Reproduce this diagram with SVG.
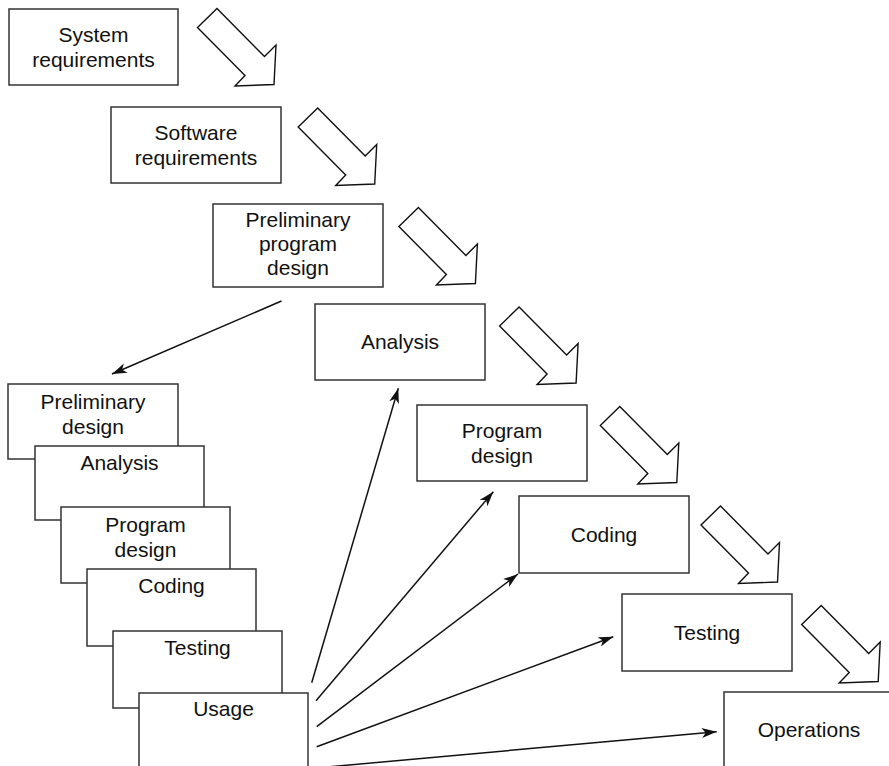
<svg xmlns="http://www.w3.org/2000/svg" width="889" height="766" viewBox="0 0 889 766">
<style>
.box{fill:#fff;stroke:#333;stroke-width:1.5}
.flow{fill:#fff;stroke:#111;stroke-width:1.4;stroke-linejoin:miter}
.lbl{font-family:"Liberation Sans",Arial,sans-serif;font-size:21px;fill:#111;text-anchor:middle}
.conn{stroke:#111;stroke-width:1.5;fill:none;marker-end:url(#ah)}
</style>
<defs>
<marker id="ah" markerUnits="userSpaceOnUse" markerWidth="18" markerHeight="12" refX="15" refY="5" orient="auto">
<path d="M0,0 L15,5 L0,10 L4,5 Z" fill="#111"/>
</marker>
<polygon id="bigArrow" points="197.5,27.5 217,8.5 264.5,56.5 276,45 274,84.5 235,86 245,75.5"/>
</defs>

<g id="flow-arrows">
<use href="#bigArrow" class="flow"/>
<use href="#bigArrow" class="flow" transform="translate(100.7,99.5)"/>
<use href="#bigArrow" class="flow" transform="translate(201.4,199)"/>
<use href="#bigArrow" class="flow" transform="translate(302.1,298.5)"/>
<use href="#bigArrow" class="flow" transform="translate(402.8,398)"/>
<use href="#bigArrow" class="flow" transform="translate(503.5,497.5)"/>
<use href="#bigArrow" class="flow" transform="translate(604.2,597)"/>
</g>

<g id="system-requirements">
<rect class="box" x="9" y="9" width="169" height="76"/>
<text class="lbl" x="93.5" y="42">System</text>
<text class="lbl" x="93.5" y="67">requirements</text>
</g>
<g id="software-requirements">
<rect class="box" x="111" y="107" width="170" height="76"/>
<text class="lbl" x="196" y="140">Software</text>
<text class="lbl" x="196" y="165">requirements</text>
</g>
<g id="preliminary-program-design">
<rect class="box" x="213" y="204" width="170" height="83"/>
<text class="lbl" x="298" y="227">Preliminary</text>
<text class="lbl" x="298" y="251">program</text>
<text class="lbl" x="298" y="275">design</text>
</g>
<g id="analysis">
<rect class="box" x="315" y="304" width="170" height="76"/>
<text class="lbl" x="400" y="349">Analysis</text>
</g>
<g id="program-design">
<rect class="box" x="417" y="405" width="170" height="76"/>
<text class="lbl" x="502" y="438">Program</text>
<text class="lbl" x="502" y="463">design</text>
</g>
<g id="coding">
<rect class="box" x="519" y="496" width="170" height="77"/>
<text class="lbl" x="604" y="542">Coding</text>
</g>
<g id="testing">
<rect class="box" x="622" y="594" width="170" height="77"/>
<text class="lbl" x="707" y="640">Testing</text>
</g>
<g id="operations">
<rect class="box" x="724" y="692" width="170" height="80"/>
<text class="lbl" x="809" y="737">Operations</text>
</g>

<g id="stack-preliminary-design">
<rect class="box" x="8" y="384" width="170" height="75"/>
<text class="lbl" x="93" y="409">Preliminary</text>
<text class="lbl" x="93" y="434">design</text>
</g>
<g id="stack-analysis">
<rect class="box" x="35" y="446" width="169" height="74"/>
<text class="lbl" x="119.5" y="470">Analysis</text>
</g>
<g id="stack-program-design">
<rect class="box" x="61" y="507" width="169" height="76"/>
<text class="lbl" x="145.5" y="532">Program</text>
<text class="lbl" x="145.5" y="557">design</text>
</g>
<g id="stack-coding">
<rect class="box" x="87" y="569" width="169" height="77"/>
<text class="lbl" x="171.5" y="593">Coding</text>
</g>
<g id="stack-testing">
<rect class="box" x="113" y="631" width="169" height="77"/>
<text class="lbl" x="197.5" y="655">Testing</text>
</g>
<g id="stack-usage">
<rect class="box" x="139" y="693" width="169" height="80"/>
<text class="lbl" x="223.5" y="716">Usage</text>
</g>

<g id="connectors">
<line class="conn" x1="281.5" y1="301" x2="112" y2="374"/>
<line class="conn" x1="311.7" y1="682.7" x2="398.3" y2="388.3"/>
<line class="conn" x1="316" y1="700.7" x2="493.3" y2="491.7"/>
<line class="conn" x1="316.7" y1="726.7" x2="518" y2="574"/>
<line class="conn" x1="316.7" y1="746.7" x2="613.3" y2="636.7"/>
<line class="conn" x1="316" y1="768" x2="716.7" y2="731.7"/>
</g>
</svg>
